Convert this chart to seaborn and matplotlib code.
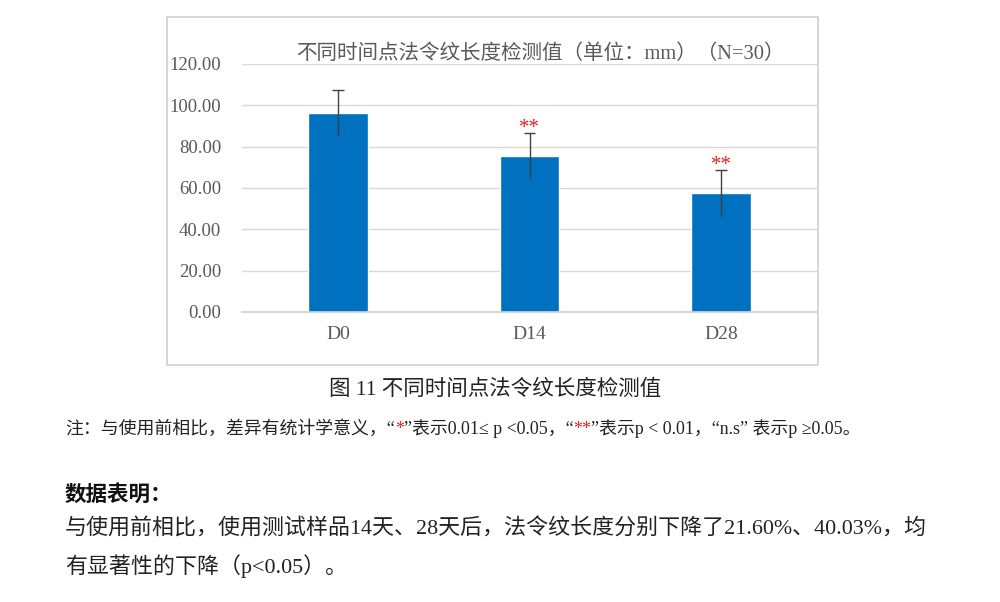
import numpy as np
import pandas as pd
import matplotlib
matplotlib.use("Agg")
import matplotlib.pyplot as plt
from matplotlib.patches import Rectangle
import seaborn as sns

# ---------------------------------------------------------------------------
# data
# ---------------------------------------------------------------------------
days   = ["D0", "D14", "D28"]
means  = [96.3, 75.5, 57.75]
sds    = [11.2, 11.0, 11.2]
stars  = ["", "**", "**"]
yticks = [0, 20, 40, 60, 80, 100, 120]

TITLE   = "不同时间点法令纹长度检测值（单位：mm）（N=30）"
CAPTION = "图 11 不同时间点法令纹长度检测值"
NOTE = [("注：与使用前相比，差异有统计学意义，“", "#222222"), ("*", "#e02020"),
        ("”表示0.01≤ p <0.05，“", "#222222"), ("**", "#e02020"),
        ("”表示p < 0.01，“n.s” 表示p ≥0.05。", "#222222")]
HEAD  = "数据表明："
PARA1 = "与使用前相比，使用测试样品14天、28天后，法令纹长度分别下降了21.60%、40.03%，均"
PARA2 = "有显著性的下降（p<0.05）。"

BLUE = "#0070C0"
GREY = "#595959"

sns.set_theme(style="white")
plt.rcParams["font.family"] = ["Liberation Serif", "Noto Sans CJK SC"]

W, H = 1000, 602
fig = plt.figure(figsize=(W / 100, H / 100), dpi=100)


def px(x, y):
    return x / W, 1 - y / H


# chart frame
fig.patches.append(Rectangle(px(167, 365), 651 / W, 348 / H, transform=fig.transFigure,
                             fill=False, edgecolor="#d0d0d0", linewidth=1.2))

ax = fig.add_axes([242 / W, 1 - 312 / H, 575 / W, 248 / H])
df = pd.DataFrame({"day": days, "mean": means, "sd": sds})
sns.barplot(data=df, x="day", y="mean", order=days, color=BLUE, saturation=1,
            width=0.31, errorbar=None, ax=ax)

xs = np.arange(len(days))
ax.errorbar(xs, df["mean"], yerr=df["sd"], fmt="none", ecolor="#404040",
            elinewidth=1.0, capsize=0)
ax.hlines(df["mean"] + df["sd"], xs - 0.03, xs + 0.03, color="#404040", lw=1.0)
for x, m, s, st in zip(xs, means, sds, stars):
    if st:
        # asterisks sit high in the glyph box, so anchor a little below the cap
        ax.text(x, m + s - 2.5, st, ha="center", va="bottom", color="#e02020",
                fontsize=15)

ax.set_ylim(0, 120)
ax.set_xlim(-0.5, 2.5)
ax.set_yticks(yticks)
ax.set_yticklabels([f"{v:.2f}" for v in yticks])
ax.yaxis.grid(True, color="#d9d9d9", linewidth=1)
ax.set_axisbelow(True)
for s in ["top", "right", "left"]:
    ax.spines[s].set_visible(False)
ax.spines["bottom"].set_color("#d0d0d0")
ax.tick_params(axis="both", length=0, labelsize=13.5, labelcolor=GREY)
ax.tick_params(axis="x", labelsize=14, pad=10)
ax.tick_params(axis="y", pad=15)
ax.set_xlabel("")
ax.set_ylabel("")

fig.text(*px(540, 54), TITLE, ha="center", va="center", fontsize=14.8, color=GREY)

# text below the chart
fig.text(*px(495, 390), CAPTION, ha="center", va="center", fontsize=15.5, color="#222222")

renderer = fig.canvas.get_renderer()
x0 = 65
for seg, col in NOTE:
    t = fig.text(*px(x0, 429), seg, ha="left", va="center", fontsize=12.9, color=col)
    x0 += t.get_window_extent(renderer).width

fig.text(*px(65, 495), HEAD, ha="left", va="center", fontsize=15.5,
         fontweight="bold", color="#111111")
fig.text(*px(65, 529), PARA1, ha="left", va="center", fontsize=15.8, color="#222222")
fig.text(*px(65, 566), PARA2, ha="left", va="center", fontsize=15.8, color="#222222")

fig.savefig("out.png", dpi=100)
